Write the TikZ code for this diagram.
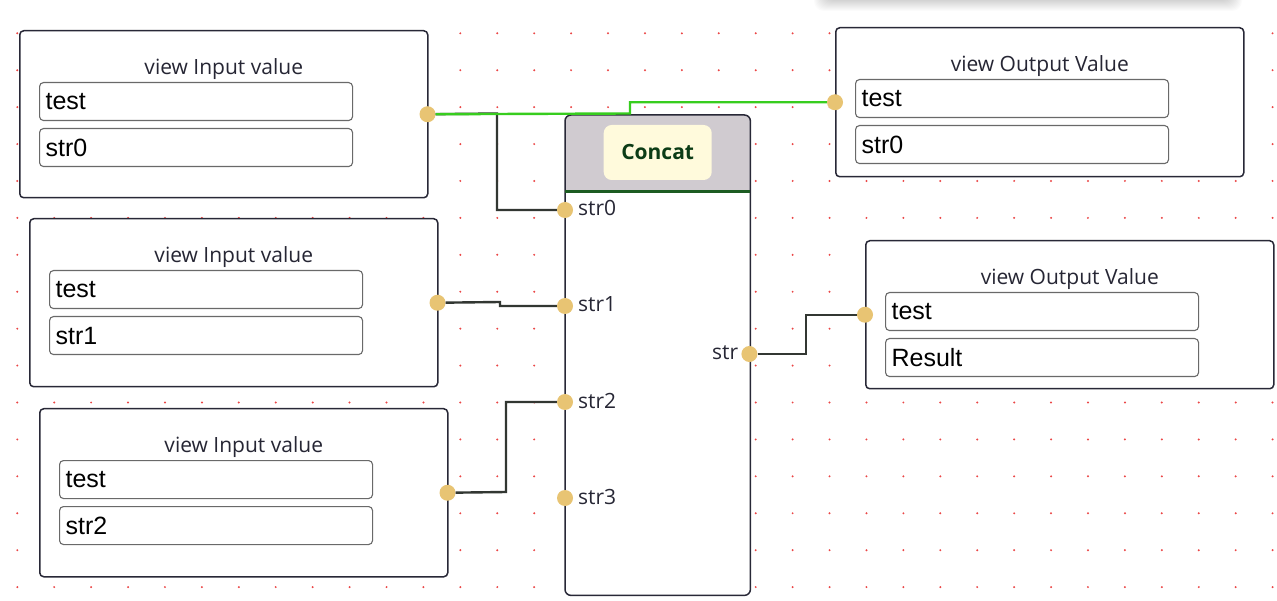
\documentclass[tikz,border=0pt]{standalone}
\usepackage{fontspec}
\setmainfont{Open Sans}
\newfontfamily\fieldfont{Liberation Sans}
\usetikzlibrary{calc}

\definecolor{gridred}{RGB}{235,70,70}
\definecolor{boxline}{RGB}{40,40,55}
\definecolor{fieldline}{RGB}{105,105,105}
\definecolor{portfill}{RGB}{232,196,115}
\definecolor{wirecol}{RGB}{50,55,50}
\definecolor{livewire}{RGB}{55,205,30}
\definecolor{headfill}{RGB}{208,203,208}
\definecolor{headline}{RGB}{28,92,34}
\definecolor{tagfill}{RGB}{255,250,220}
\definecolor{tagtext}{RGB}{12,60,22}
\definecolor{titletext}{RGB}{38,38,52}

\tikzset{
  viewbox/.style={draw=boxline, line width=1.5pt, fill=white, rounded corners=4pt,
    minimum width=408pt, inner sep=0pt, anchor=north west},
  viewtitle/.style={font=\fontsize{21}{25}\selectfont, text=titletext, inner sep=0pt},
  field/.style={draw=fieldline, line width=1.1pt, fill=white, rounded corners=4pt,
    minimum height=38pt, text width=301pt, inner xsep=6pt, inner ysep=0pt,
    align=left, anchor=north west, font=\fieldfont\fontsize{25}{29}\selectfont},
  port/.style={circle, fill=portfill, minimum size=16pt, inner sep=0pt},
  portlabel/.style={font=\fontsize{21}{25}\selectfont, text=titletext, inner sep=0pt},
  tag/.style={fill=tagfill, rounded corners=8pt, minimum width=108pt, minimum height=55pt,
    inner sep=0pt, text=tagtext, font=\bfseries\fontsize{21}{25}\selectfont},
  wire/.style={draw=wirecol, line width=2.4pt},
  live/.style={draw=livewire, line width=2.4pt},
}

% a value viewer: name, left, top, height, title, first field, second field
\newcommand{\viewnode}[7]{%
  \node[viewbox, minimum height=#4pt] (#1) at (#2,#3) {};
  \node[viewtitle] (#1-title) at ($(#1.north)+(0,39)$) {#5};
  \node[field] (#1-f1) at ($(#1.north west)+(20,52)$) {#6};
  \node[field] (#1-f2) at ($(#1.north west)+(20,98)$) {#7};
}

\begin{document}
\begin{tikzpicture}[x=1pt, y=-1pt]
\clip (0,0) rectangle (1277,601);
\useasboundingbox (0,0) rectangle (1277,601);
\fill[white] (0,0) rectangle (1277,601);

% soft shadow of the toolbar above
\foreach \i in {0,...,14}
  \fill[black, opacity=0.014, rounded corners=10pt] (828-\i,-40) rectangle (1228+\i,-3+\i);

% dotted canvas grid
\foreach \i in {0,...,34}
  \foreach \j in {0,...,15}
    \fill[gridred] (17.3+36.92*\i, 33.3+36.92*\j) circle (1.1);

% input viewers
\viewnode{in0}{19}{30}{167}{view Input value}{test}{str0}
\viewnode{in1}{29}{218}{168}{view Input value}{test}{str1}
\viewnode{in2}{39}{408}{168}{view Input value}{test}{str2}
\node[port] (in0-p) at ($(in0.east)+(-1,0)$) {};
\node[port] (in1-p) at ($(in1.east)+(-1,0)$) {};
\node[port] (in2-p) at ($(in2.east)+(-1,0)$) {};

% output viewers
\viewnode{out0}{835}{27}{149}{view Output Value}{test}{str0}
\viewnode{out1}{865}{240}{148}{view Output Value}{test}{Result}
\node[port] (out0-p) at (out0.west) {};
\node[port] (out1-p) at (out1.west) {};

% Concat block
\node[fill=white, minimum width=185pt, minimum height=480pt, inner sep=0pt,
      anchor=north west] (concat) at (565,115) {};
\fill[headfill, rounded corners=6pt] (concat.north west) rectangle ($(concat.north east)+(0,75)$);
\fill[headfill] ($(concat.north west)+(0,40)$) rectangle ($(concat.north east)+(0,75)$);
\draw[boxline, line width=1.5pt, rounded corners=6pt] (concat.north west) rectangle (concat.south east);
\draw[headline, line width=3pt] ($(concat.north west)+(0,76.3)$) -- ($(concat.north east)+(0,76.3)$);
\node[tag] (concat-tag) at ($(concat.north)+(0,37.5)$) {Concat};

\node[port] (s0) at ($(concat.north west)+(0,95)$) {};
\node[port] (s1) at ($(concat.north west)+(0,191)$) {};
\node[port] (s2) at ($(concat.north west)+(0,287)$) {};
\node[port] (s3) at ($(concat.north west)+(0,383)$) {};
\node[port] (so) at ($(concat.north east)+(-1,239)$) {};
\node[portlabel, anchor=base west] (s0-label) at ($(s0)+(13,6)$) {str0};
\node[portlabel, anchor=base west] (s1-label) at ($(s1)+(13,6)$) {str1};
\node[portlabel, anchor=base west] (s2-label) at ($(s2)+(13,6)$) {str2};
\node[portlabel, anchor=base west] (s3-label) at ($(s3)+(13,6)$) {str3};
\node[portlabel, anchor=base east] (so-label) at ($(so)+(-11,6)$) {str};

% connectors
\coordinate (j0) at (497,113.5);
\coordinate (g0) at (630,113.5);
\coordinate (j1) at (500,302);
\coordinate (j2) at (506,492);
\coordinate (j3) at (806,354);
\draw[wire] (in0-p) -- (j0) |- (s0);
\draw[wire] (in1-p) -- (j1) |- (s1);
\draw[wire] (in2-p) -- (j2) |- (s2);
\draw[wire] (so) -- (j3) |- (out1-p);
\draw[live] (in0-p) -- (g0) |- (out0-p);
\end{tikzpicture}
\end{document}
